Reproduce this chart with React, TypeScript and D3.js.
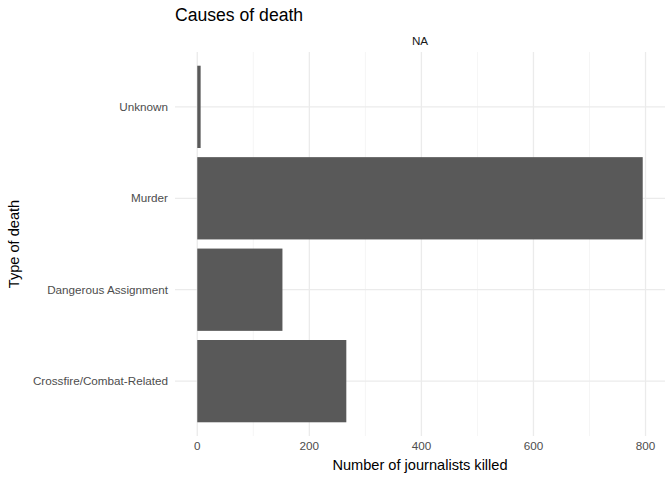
import React from "react";
import * as d3 from "d3";

const categories = ["Crossfire/Combat-Related", "Dangerous Assignment", "Murder", "Unknown"];
const counts = [266, 152, 795, 6];
const xTicks = [0, 200, 400, 600, 800];
const xMinor = [100, 300, 500, 700];

export default function App() {
  const W = 672, H = 480;
  const left = 175, right = 665, top = 52, bottom = 436;
  const maxV = d3.max(counts)!;
  const x = d3.scaleLinear().domain([-0.05 * maxV, 1.05 * maxV]).range([left, right]);
  const y = d3.scalePoint().domain([...categories].reverse()).range([top, bottom]).padding(0.6);
  const bw = y.step() * 0.9;
  const font = "Liberation Sans, Arial, sans-serif";
  return (
    <svg width={W} height={H} style={{ position: "absolute", left: 0, top: 0, fontFamily: font }}>
      <rect width={W} height={H} fill="#fff" />
      {xMinor.map(t => <line key={"m" + t} x1={x(t)} x2={x(t)} y1={top} y2={bottom} stroke="#f2f2f2" strokeWidth={0.8} />)}
      {xTicks.map(t => <line key={"g" + t} x1={x(t)} x2={x(t)} y1={top} y2={bottom} stroke="#ebebeb" strokeWidth={1.3} />)}
      {categories.map(c => <line key={"h" + c} x1={left} x2={right} y1={y(c)!} y2={y(c)!} stroke="#ebebeb" strokeWidth={1.3} />)}
      {categories.map((c, i) => (
        <rect key={c} x={x(0)} y={y(c)! - bw / 2} width={x(counts[i]) - x(0)} height={bw} fill="#595959" />
      ))}
      {categories.map(c => (
        <text key={"l" + c} x={left - 7} y={y(c)!} dy="0.35em" textAnchor="end" fontSize={11.7} fill="#4d4d4d">{c}</text>
      ))}
      {xTicks.map(t => (
        <text key={"t" + t} x={x(t)} y={bottom + 14} textAnchor="middle" fontSize={11.7} fill="#4d4d4d">{t}</text>
      ))}
      <text x={(left + right) / 2} y={45} textAnchor="middle" fontSize={11.7} fill="#1a1a1a">NA</text>
      <text x={175} y={21} fontSize={17.6} fill="#000">Causes of death</text>
      <text x={(left + right) / 2} y={470} textAnchor="middle" fontSize={14.6} fill="#000">Number of journalists killed</text>
      <text transform={`translate(19,${(top + bottom) / 2}) rotate(-90)`} textAnchor="middle" fontSize={14.6} fill="#000">Type of death</text>
    </svg>
  );
}
